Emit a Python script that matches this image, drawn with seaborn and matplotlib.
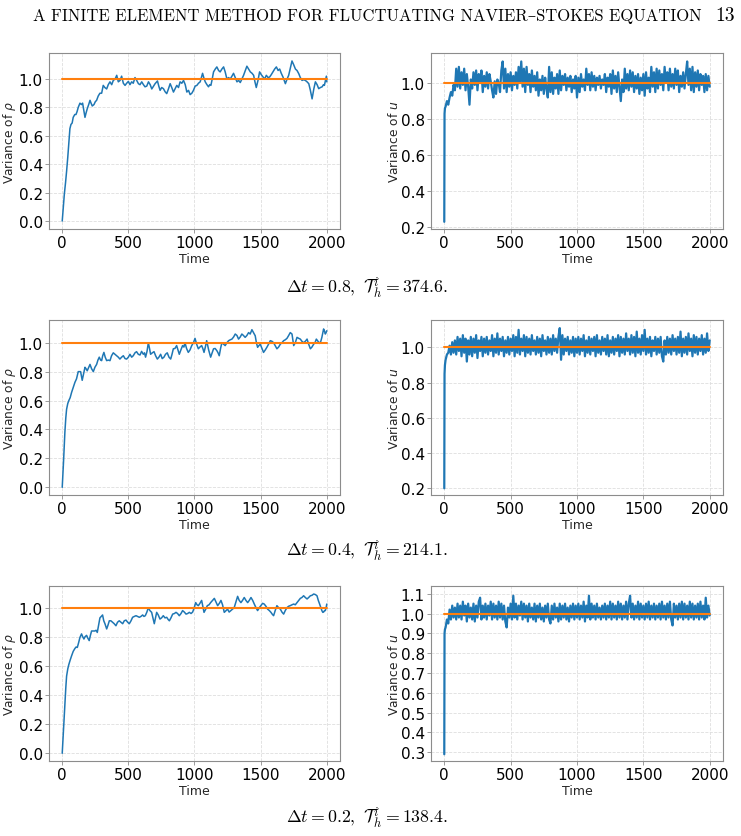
import matplotlib
matplotlib.use('Agg')
import matplotlib.pyplot as plt
import seaborn as sns

# 方差随时间演化 (rho: (time, value) 读数; u: 每 10 个时间单位取值)
target_var = 1.0

rho_08 = [(0, 0.00), (8, 0.10), (16, 0.19), (25, 0.27), (33, 0.35), (42, 0.45), (50, 0.55), (58, 0.65),
          (66, 0.68), (75, 0.69), (83, 0.73), (95, 0.75), (104, 0.75), (112, 0.77), (121, 0.80), (134, 0.83),
          (145, 0.82), (154, 0.83), (163, 0.78), (172, 0.73), (180, 0.76), (189, 0.79), (200, 0.82), (210, 0.85),
          (218, 0.83), (227, 0.81), (240, 0.82), (250, 0.84), (260, 0.85), (272, 0.88), (285, 0.90), (298, 0.90),
          (310, 0.955), (322, 0.94), (336, 0.93), (348, 0.96), (361, 0.98), (374, 0.96), (386, 0.99), (400, 1.00),
          (412, 1.026), (424, 0.98), (437, 0.99), (449, 1.02), (462, 0.97), (475, 0.955), (487, 0.97), (500, 0.983),
          (512, 0.96), (525, 0.98), (537, 0.97), (550, 1.01), (563, 0.99), (576, 0.967), (588, 0.96), (601, 0.98),
          (614, 0.96), (626, 0.945), (639, 0.95), (652, 0.98), (665, 0.96), (677, 0.93), (690, 0.95), (702, 0.967),
          (720, 0.986), (730, 0.95), (740, 0.92), (752, 0.94), (765, 0.932), (778, 0.91), (790, 0.897), (803, 0.93),
          (816, 0.967), (828, 0.94), (841, 0.908), (853, 0.93), (866, 0.955), (879, 0.94), (891, 0.98), (904, 0.97),
          (917, 0.99), (930, 0.96), (942, 0.908), (955, 0.92), (967, 0.89), (980, 0.90), (992, 0.92), (1005, 0.95),
          (1018, 0.955), (1030, 0.97), (1043, 0.98), (1061, 1.04), (1070, 1.01), (1081, 0.98), (1094, 0.96),
          (1106, 0.945), (1115, 0.96), (1124, 0.955), (1134, 1.00), (1144, 1.05), (1157, 1.07), (1169, 1.085),
          (1182, 1.06), (1194, 1.05), (1207, 1.07), (1220, 1.085), (1232, 1.05), (1245, 1.00), (1258, 1.01),
          (1270, 1.00), (1283, 1.02), (1295, 1.04), (1308, 1.01), (1321, 0.98), (1334, 0.99), (1346, 0.975),
          (1358, 1.00), (1371, 1.026), (1384, 1.06), (1396, 1.09), (1409, 1.07), (1422, 1.05), (1435, 1.04),
          (1447, 1.026), (1457, 0.98), (1467, 0.94), (1480, 0.99), (1492, 1.05), (1505, 1.03), (1518, 1.014),
          (1530, 1.00), (1543, 1.026), (1556, 1.01), (1568, 1.014), (1580, 1.03), (1593, 1.05), (1606, 1.07),
          (1619, 1.085), (1632, 1.06), (1644, 1.07), (1656, 1.04), (1669, 1.014), (1678, 0.99), (1687, 0.967),
          (1700, 1.00), (1712, 1.026), (1725, 1.08), (1737, 1.127), (1750, 1.10), (1763, 1.07), (1775, 1.06),
          (1788, 1.038), (1800, 1.01), (1813, 0.99), (1826, 0.995), (1838, 0.99), (1851, 0.98), (1864, 0.967),
          (1876, 0.92), (1889, 0.86), (1902, 0.93), (1914, 0.98), (1927, 0.96), (1939, 0.932), (1952, 0.94),
          (1965, 0.945), (1975, 0.96), (1982, 0.955), (1990, 0.99), (1997, 1.02), (2000, 0.98)]

rho_04 = [(0, 0.00), (10, 0.18), (20, 0.38), (27, 0.48), (33, 0.54), (42, 0.58), (50, 0.60), (60, 0.62),
          (71, 0.657), (83, 0.69), (96, 0.726), (108, 0.75), (121, 0.80), (130, 0.80), (139, 0.80), (151, 0.74),
          (160, 0.78), (172, 0.83), (180, 0.82), (189, 0.806), (200, 0.83), (210, 0.85), (222, 0.82), (235, 0.80),
          (247, 0.83), (260, 0.85), (270, 0.88), (280, 0.90), (290, 0.88), (298, 0.876), (306, 0.91), (315, 0.933),
          (325, 0.90), (336, 0.876), (348, 0.88), (361, 0.876), (373, 0.91), (386, 0.93), (399, 0.92), (412, 0.91),
          (424, 0.90), (436, 0.887), (449, 0.90), (462, 0.91), (475, 0.89), (487, 0.887), (500, 0.90), (512, 0.92),
          (525, 0.90), (537, 0.91), (550, 0.93), (562, 0.938), (575, 0.92), (588, 0.915), (600, 0.94), (613, 0.92),
          (622, 0.93), (630, 0.90), (641, 0.94), (651, 1.00), (660, 0.96), (668, 0.92), (681, 0.93), (694, 0.938),
          (706, 0.91), (719, 0.887), (731, 0.90), (744, 0.92), (756, 0.89), (769, 0.90), (781, 0.92), (794, 0.93),
          (807, 0.90), (820, 0.887), (830, 0.92), (840, 0.958), (852, 0.96), (865, 0.98), (875, 0.95), (885, 0.92),
          (897, 0.95), (910, 0.98), (920, 0.97), (928, 1.00), (940, 0.96), (953, 0.933), (966, 0.95), (979, 0.98),
          (992, 1.00), (1004, 1.03), (1016, 0.99), (1029, 0.958), (1041, 0.97), (1054, 0.98), (1063, 0.96),
          (1072, 0.933), (1082, 0.97), (1092, 1.014), (1107, 0.95), (1122, 0.90), (1133, 0.93), (1144, 0.958),
          (1156, 0.96), (1169, 0.945), (1178, 0.93), (1187, 0.91), (1197, 0.96), (1207, 1.00), (1220, 0.99),
          (1232, 0.98), (1245, 1.00), (1258, 1.014), (1270, 1.02), (1283, 1.025), (1296, 1.04), (1308, 1.06),
          (1321, 1.05), (1333, 1.025), (1346, 1.04), (1358, 1.06), (1370, 1.05), (1383, 1.037), (1396, 1.05),
          (1409, 1.07), (1421, 1.06), (1434, 1.09), (1446, 1.07), (1459, 1.048), (1468, 1.00), (1477, 0.968),
          (1487, 0.98), (1497, 0.99), (1510, 0.96), (1522, 0.933), (1535, 0.95), (1547, 0.968), (1560, 0.99),
          (1573, 1.014), (1585, 1.01), (1598, 1.00), (1610, 0.98), (1623, 0.958), (1636, 0.97), (1649, 0.99),
          (1661, 1.00), (1674, 1.014), (1686, 1.02), (1699, 1.03), (1712, 1.05), (1724, 1.07), (1737, 1.06),
          (1750, 0.98), (1762, 1.00), (1775, 1.037), (1788, 1.03), (1800, 1.025), (1812, 1.01), (1825, 1.00),
          (1838, 1.01), (1851, 1.025), (1863, 0.99), (1876, 0.958), (1888, 0.97), (1901, 0.99), (1911, 1.00),
          (1921, 1.025), (1934, 1.01), (1946, 0.995), (1955, 1.01), (1963, 1.037), (1970, 1.07), (1976, 1.095),
          (1983, 1.08), (1989, 1.06), (1995, 1.07), (2000, 1.083)]

rho_02 = [(0, 0.00), (10, 0.17), (20, 0.35), (27, 0.45), (33, 0.53), (42, 0.58), (50, 0.61), (60, 0.64),
          (71, 0.67), (83, 0.70), (96, 0.72), (105, 0.73), (114, 0.727), (124, 0.76), (134, 0.796), (146, 0.82),
          (155, 0.80), (164, 0.785), (172, 0.80), (184, 0.81), (194, 0.79), (204, 0.774), (213, 0.81), (222, 0.84),
          (235, 0.84), (247, 0.84), (256, 0.845), (265, 0.83), (275, 0.88), (285, 0.93), (295, 0.94), (305, 0.95),
          (314, 0.91), (323, 0.89), (336, 0.854), (346, 0.88), (356, 0.91), (368, 0.91), (381, 0.90), (393, 0.89),
          (406, 0.876), (418, 0.90), (431, 0.91), (444, 0.90), (457, 0.89), (469, 0.91), (482, 0.915), (495, 0.90),
          (507, 0.89), (520, 0.91), (532, 0.934), (545, 0.94), (558, 0.945), (570, 0.94), (583, 0.934), (595, 0.94),
          (608, 0.95), (618, 0.94), (628, 0.945), (640, 0.97), (651, 1.00), (663, 0.98), (676, 0.968), (686, 0.93),
          (696, 0.89), (705, 0.93), (714, 0.968), (726, 0.95), (739, 0.922), (751, 0.93), (764, 0.945), (777, 0.93),
          (790, 0.934), (800, 0.92), (810, 0.91), (822, 0.93), (835, 0.956), (848, 0.96), (860, 0.968), (872, 0.96),
          (885, 0.945), (898, 0.96), (910, 0.98), (923, 0.97), (936, 0.956), (948, 0.96), (961, 0.968), (974, 0.96),
          (986, 0.97), (998, 1.00), (1009, 1.035), (1019, 1.02), (1029, 1.014), (1041, 1.03), (1054, 1.05),
          (1063, 1.01), (1072, 0.968), (1085, 0.99), (1097, 1.014), (1110, 1.02), (1122, 1.035), (1136, 1.05),
          (1150, 1.064), (1162, 1.04), (1175, 1.014), (1188, 1.03), (1200, 1.05), (1212, 1.02), (1225, 0.968),
          (1238, 0.98), (1250, 0.99), (1262, 0.97), (1275, 0.98), (1288, 0.99), (1300, 1.00), (1313, 1.04),
          (1326, 1.078), (1338, 1.05), (1351, 1.035), (1363, 1.05), (1376, 1.07), (1389, 1.05), (1402, 1.035),
          (1414, 1.05), (1427, 1.07), (1440, 1.05), (1452, 1.025), (1465, 1.00), (1477, 0.98), (1490, 1.00),
          (1502, 1.014), (1515, 1.03), (1527, 1.025), (1540, 1.01), (1553, 0.99), (1566, 0.98), (1578, 0.968),
          (1588, 0.955), (1598, 0.945), (1610, 0.98), (1623, 1.014), (1636, 1.00), (1649, 0.99), (1661, 0.97),
          (1674, 0.956), (1686, 0.98), (1699, 1.00), (1712, 1.01), (1724, 1.014), (1737, 1.02), (1750, 1.025),
          (1762, 1.02), (1775, 1.035), (1788, 1.05), (1800, 1.064), (1812, 1.07), (1825, 1.082), (1838, 1.07),
          (1851, 1.06), (1863, 1.07), (1876, 1.082), (1888, 1.085), (1901, 1.094), (1914, 1.09), (1926, 1.082),
          (1936, 1.05), (1946, 1.025), (1955, 1.00), (1963, 0.98), (1970, 0.968), (1976, 0.97), (1983, 0.98),
          (1989, 0.98), (1995, 1.00), (2000, 1.025)]

# u: 前三个值对应 t = 0, 2, 5，之后每行 20 个值 (t = 10, 20, ...)
u_08 = [0.23, 0.83, 0.86,
        0.87, 0.90, 0.88, 0.92, 0.95, 0.93, 0.99, 0.96, 1.08, 0.98, 1.09, 0.97, 1.06, 0.99, 1.08, 0.96, 1.05, 0.98, 0.88, 1.02,
        0.97, 1.06, 0.99, 1.07, 0.96, 1.05, 1.00, 1.07, 0.95, 1.04, 0.98, 1.06, 0.97, 1.05, 1.01, 0.96, 0.92, 1.01, 0.94, 1.02,
        1.00, 0.95, 1.07, 1.12, 0.97, 1.08, 0.95, 1.05, 0.98, 1.06, 0.96, 1.04, 0.99, 1.06, 0.97, 1.09, 1.00, 1.12, 0.98, 1.08,
        0.95, 1.09, 0.99, 1.05, 0.95, 1.07, 0.98, 1.04, 0.96, 1.06, 0.93, 1.02, 0.96, 1.04, 0.94, 1.03, 0.97, 0.92, 1.09, 0.95,
        1.06, 0.94, 1.03, 0.97, 1.05, 0.94, 1.07, 0.96, 1.04, 0.99, 1.05, 0.96, 1.03, 0.98, 1.04, 0.95, 1.02, 0.97, 1.04, 0.92,
        1.03, 0.95, 1.05, 0.98, 1.02, 0.96, 1.08, 0.99, 1.05, 0.96, 1.06, 0.98, 1.04, 0.96, 1.03, 0.99, 1.04, 0.97, 1.02, 0.99,
        1.05, 0.95, 1.03, 0.98, 1.05, 0.94, 1.07, 0.97, 1.04, 0.95, 1.06, 0.98, 0.90, 1.02, 0.95, 1.08, 0.97, 1.05, 0.96, 1.07,
        0.98, 1.06, 0.95, 1.04, 0.97, 1.05, 0.94, 1.03, 0.96, 1.05, 0.93, 1.06, 0.97, 1.03, 0.95, 1.09, 0.98, 1.06, 0.95, 1.08,
        0.97, 1.07, 0.99, 1.05, 0.96, 1.09, 1.00, 1.06, 0.96, 1.08, 0.98, 1.05, 0.97, 1.08, 0.99, 1.07, 0.95, 1.04, 0.98, 1.06,
        0.97, 1.05, 1.12, 0.99, 1.08, 0.96, 1.09, 0.95, 1.06, 0.98, 1.07, 0.96, 1.05, 0.99, 1.04, 0.95, 1.05, 0.96, 1.04, 0.98]

u_04 = [0.20, 0.85, 0.90,
        0.93, 0.96, 0.97, 1.01, 0.96, 1.03, 0.97, 1.04, 0.96, 1.06, 0.98, 1.05, 0.95, 1.07, 0.97, 1.05, 0.92, 1.04, 0.96, 1.06,
        0.95, 1.05, 0.97, 1.07, 0.94, 1.04, 0.98, 1.06, 0.95, 1.05, 0.97, 1.06, 0.96, 1.04, 0.98, 1.07, 0.95, 1.05, 0.97, 1.08,
        0.96, 1.05, 0.98, 1.06, 0.95, 1.04, 0.97, 1.06, 0.96, 1.05, 0.98, 1.07, 0.95, 1.06, 0.97, 1.10, 0.96, 1.05, 0.98, 1.07,
        0.95, 1.06, 0.97, 1.05, 0.96, 1.07, 0.98, 1.04, 0.96, 1.06, 0.97, 1.05, 0.95, 1.07, 0.98, 1.04, 0.96, 1.06, 0.97, 1.05,
        0.96, 1.07, 0.98, 1.05, 0.97, 1.06, 1.11, 0.93, 1.07, 0.96, 1.05, 0.98, 1.06, 0.96, 1.04, 0.97, 1.06, 0.95, 1.05, 0.97,
        1.06, 0.96, 1.05, 0.98, 1.07, 0.95, 1.04, 0.97, 1.06, 0.96, 1.05, 0.98, 1.06, 0.95, 1.07, 0.97, 1.04, 0.96, 1.06, 0.98,
        1.05, 0.96, 1.07, 0.95, 1.04, 0.97, 1.06, 0.96, 1.05, 0.98, 1.07, 0.95, 1.06, 0.97, 1.05, 0.96, 1.08, 0.98, 1.05, 0.96,
        1.07, 0.97, 1.06, 0.95, 1.09, 0.97, 1.05, 0.96, 1.07, 0.98, 1.10, 0.96, 1.05, 0.97, 1.06, 0.95, 1.04, 0.98, 1.06, 0.96,
        1.05, 0.97, 1.06, 0.95, 0.92, 1.04, 0.96, 1.06, 0.97, 1.05, 0.96, 1.07, 0.98, 1.05, 0.96, 1.06, 0.97, 1.09, 0.95, 1.05,
        0.97, 1.06, 0.96, 1.08, 0.98, 1.05, 0.95, 1.07, 0.97, 1.06, 0.96, 1.05, 0.98, 1.07, 0.96, 1.05, 0.97, 1.08, 0.98, 1.04]

u_02 = [0.29, 0.90, 0.92,
        0.93, 0.97, 0.95, 1.02, 0.97, 1.04, 0.98, 1.03, 0.97, 1.05, 0.98, 1.04, 0.97, 1.06, 0.99, 1.04, 0.96, 1.05, 0.98, 1.03,
        0.97, 1.05, 0.96, 1.04, 0.98, 1.06, 1.08, 0.97, 1.04, 0.98, 1.05, 0.97, 1.04, 0.99, 1.06, 0.97, 1.05, 0.98, 1.04, 0.97,
        1.06, 0.98, 1.05, 0.97, 1.04, 0.96, 0.93, 1.03, 0.98, 1.05, 0.97, 1.09, 0.98, 1.05, 0.97, 1.04, 0.99, 1.06, 0.97, 1.05,
        0.98, 1.04, 0.96, 1.05, 0.98, 1.03, 0.97, 1.05, 0.96, 1.04, 0.98, 1.05, 0.97, 1.03, 0.96, 1.04, 0.98, 1.05, 0.97, 0.95,
        1.04, 0.97, 1.05, 0.98, 1.03, 0.96, 1.05, 0.97, 1.04, 0.98, 1.05, 0.97, 1.03, 0.96, 1.04, 0.98, 1.05, 0.97, 1.04, 0.98,
        1.05, 0.97, 1.04, 0.98, 1.06, 0.96, 1.04, 0.98, 1.09, 0.97, 1.05, 0.98, 1.04, 0.97, 1.05, 0.98, 1.03, 0.97, 1.04, 0.98,
        1.05, 0.97, 1.04, 0.98, 1.06, 0.97, 1.05, 0.98, 1.04, 0.97, 1.06, 0.98, 1.05, 0.97, 1.04, 0.98, 1.06, 0.97, 1.05, 1.09,
        0.98, 1.05, 0.97, 1.04, 0.98, 1.06, 0.97, 1.05, 0.98, 1.04, 0.97, 1.05, 0.98, 1.06, 0.97, 1.04, 0.98, 1.05, 0.97, 1.04,
        0.98, 1.05, 0.97, 1.06, 0.98, 1.04, 0.97, 1.05, 0.98, 1.06, 0.97, 0.94, 1.05, 0.98, 1.04, 0.97, 1.05, 0.98, 1.06, 0.97,
        1.05, 0.98, 1.04, 0.97, 1.06, 0.98, 1.05, 0.97, 1.04, 0.98, 1.05, 0.97, 1.06, 0.98, 1.04, 0.97, 1.08, 0.98, 1.04, 0.99]

captions = [r'$\Delta t = 0.8,\ \mathcal{T}_h^i = 374.6.$',
            r'$\Delta t = 0.4,\ \mathcal{T}_h^i = 214.1.$',
            r'$\Delta t = 0.2,\ \mathcal{T}_h^i = 138.4.$']
header = 'A FINITE ELEMENT METHOD FOR FLUCTUATING NAVIER\u2013STOKES EQUATION'
page_no = '13'


def u_times(vals):
    return [0, 2, 5] + list(range(10, 10 * (len(vals) - 3) + 1, 10))


sns.set_style('whitegrid', {'grid.linestyle': '--', 'grid.color': '.88', 'axes.edgecolor': '.55',
                            'xtick.bottom': True, 'ytick.left': True, 'text.color': 'black',
                            'xtick.color': '.55', 'ytick.color': '.55'})
plt.rcParams['font.family'] = ['DejaVu Sans']


def draw_panel(ax, t, v, ylabel, ylim, yticks, lw):
    sns.lineplot(x=t, y=v, ax=ax, color='#1f77b4', linewidth=lw, estimator=None)
    sns.lineplot(x=[t[0], t[-1]], y=[target_var, target_var], ax=ax, color='#ff7f0e', linewidth=1.5, estimator=None)
    ax.set_xlim(-100, 2100)
    ax.set_ylim(*ylim)
    ax.set_xticks([0, 500, 1000, 1500, 2000])
    ax.set_yticks(yticks)
    ax.set_xlabel('Time', fontsize=9, labelpad=1)
    ax.set_ylabel(ylabel, fontsize=8.8, labelpad=0)
    ax.tick_params(labelsize=11, labelcolor='black', length=3, width=0.6, pad=1.5)
    ax.grid(True, linestyle='--', linewidth=0.6, color='.87')
    for s in ax.spines.values():
        s.set_linewidth(0.8)


fig = plt.figure(figsize=(7.41, 8.37), dpi=100)
W, H = 741, 837

rows = [(rho_08, u_08, 54, 230, (-0.056, 1.183), (0.19, 1.167), [0.2, 0.4, 0.6, 0.8, 1.0]),
        (rho_04, u_04, 321, 496, (-0.053, 1.157), (0.162, 1.156), [0.2, 0.4, 0.6, 0.8, 1.0]),
        (rho_02, u_02, 587, 762, (-0.053, 1.149), (0.256, 1.139), [0.3, 0.4, 0.5, 0.6, 0.7, 0.8, 0.9, 1.0, 1.1])]
cap_y = [288, 551, 818]

for i, (rho, u, top, bot, ylim_r, ylim_u, uticks) in enumerate(rows):
    axl = fig.add_axes([49 / W, 1 - bot / H, 291 / W, (bot - top) / H])
    axr = fig.add_axes([431 / W, 1 - bot / H, 292 / W, (bot - top) / H])
    rt = [p[0] for p in rho]
    rv = [p[1] for p in rho]
    draw_panel(axl, rt, rv, r'Variance of $\rho$', ylim_r, [0.0, 0.2, 0.4, 0.6, 0.8, 1.0], 1.1)
    draw_panel(axr, u_times(u), u, r'Variance of $u$', ylim_u, uticks, 1.6)
    fig.text(367 / W, 1 - cap_y[i] / H, captions[i], ha='center', va='center', fontsize=12.8,
             math_fontfamily='cm', color='black')

fig.text(367 / W, 1 - 16 / H, header, ha='center', va='center', fontsize=12,
         family=['cmr10', 'DejaVu Serif'], color='black')
fig.text(725 / W, 1 - 16 / H, page_no, ha='center', va='center', fontsize=14,
         family=['cmr10', 'DejaVu Serif'], color='black')

fig.savefig('out.png', dpi=100)
